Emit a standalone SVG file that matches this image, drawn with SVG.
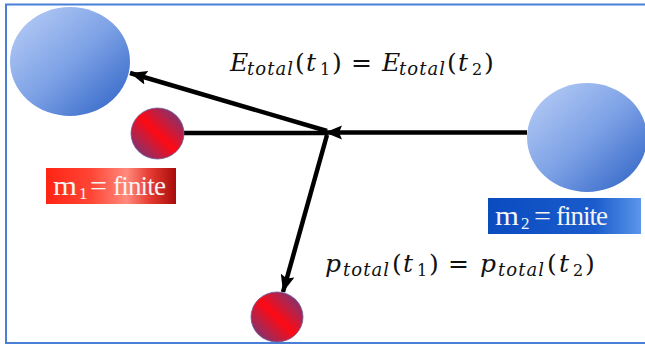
<svg xmlns="http://www.w3.org/2000/svg" width="645" height="345" viewBox="0 0 645 345">
<defs>
<linearGradient id="blueBall" x1="0" y1="0" x2="1" y2="1">
<stop offset="0" stop-color="#bcd0f7"/>
<stop offset="0.5" stop-color="#7ea2e6"/>
<stop offset="1" stop-color="#2a60c4"/>
</linearGradient>
<linearGradient id="redBall" x1="0" y1="1" x2="1" y2="0">
<stop offset="0" stop-color="#5a3f8a"/>
<stop offset="0.5" stop-color="#ff0a14"/>
<stop offset="1" stop-color="#5a3f8a"/>
</linearGradient>
<linearGradient id="redBox" x1="0" y1="0" x2="1" y2="0">
<stop offset="0" stop-color="#ff2414"/>
<stop offset="0.35" stop-color="#ff4636"/>
<stop offset="0.62" stop-color="#ff8a7c"/>
<stop offset="0.8" stop-color="#e53a30"/>
<stop offset="1" stop-color="#a80c0c"/>
</linearGradient>
<linearGradient id="blueBox" x1="0" y1="0" x2="1" y2="0">
<stop offset="0" stop-color="#0a4cc0"/>
<stop offset="0.7" stop-color="#1a5ccc"/>
<stop offset="1" stop-color="#5a96ea"/>
</linearGradient>
<marker id="head" markerUnits="userSpaceOnUse" markerWidth="20" markerHeight="16" refX="17" refY="7" orient="auto">
<path d="M0,0 L17,7 L0,14 L3,7 z" fill="#000"/>
</marker>
<style>
.conn{stroke:#000;stroke-width:4.5;fill:none}
.math{font-family:"DejaVu Serif","Liberation Serif",serif;font-size:25px;fill:#111}
.it{font-style:italic}
.sub{font-size:18px}
.num{font-size:16px}
.lbl{font-family:"Liberation Serif","DejaVu Serif",serif;font-size:27px;fill:#f4f4f4}
.lsub{font-size:17px}
</style>
</defs>
<rect x="6" y="4.5" width="645" height="338.5" fill="#fff" stroke="#4a7fd8" stroke-width="2"/>

<g id="connectors">
<line class="conn" x1="327" y1="131" x2="130" y2="73" marker-end="url(#head)"/>
<line class="conn" x1="184" y1="133" x2="328" y2="133"/>
<line class="conn" x1="527" y1="132.5" x2="325" y2="132.5" marker-end="url(#head)"/>
<line class="conn" x1="327" y1="135" x2="283" y2="292" marker-end="url(#head)"/>
</g>

<g id="mass1-before"><ellipse cx="70" cy="61.5" rx="60" ry="54.5" fill="url(#blueBall)"/></g>
<g id="mass2"><ellipse cx="587" cy="137.5" rx="60" ry="54.5" fill="url(#blueBall)"/></g>
<g id="ball1"><ellipse cx="157.5" cy="133.5" rx="26.5" ry="25.5" fill="url(#redBall)" stroke="#6a5a9a" stroke-width="0.8"/></g>
<g id="ball2"><ellipse cx="277" cy="317" rx="26" ry="25" fill="url(#redBall)" stroke="#6a5a9a" stroke-width="0.8"/></g>

<g id="label-m1">
<rect x="46" y="168" width="130" height="36" fill="url(#redBox)"/>
<text class="lbl" y="195"><tspan x="53" textLength="24" lengthAdjust="spacingAndGlyphs">m</tspan><tspan class="lsub" x="79" y="199">1</tspan><tspan x="90" y="195" textLength="17" lengthAdjust="spacingAndGlyphs">=</tspan><tspan x="113" textLength="53">finite</tspan></text>
</g>
<g id="label-m2">
<rect x="488" y="198" width="153" height="36" fill="url(#blueBox)"/>
<text class="lbl" y="225"><tspan x="495" textLength="24" lengthAdjust="spacingAndGlyphs">m</tspan><tspan class="lsub" x="521" y="229">2</tspan><tspan x="534" y="225" textLength="17" lengthAdjust="spacingAndGlyphs">=</tspan><tspan x="556" textLength="52">finite</tspan></text>
</g>

<g id="energy-eq">
<text class="math" y="71"><tspan class="it" x="230">E</tspan><tspan class="it sub" x="247" y="75" textLength="46">total</tspan><tspan x="295" y="71">(</tspan><tspan class="it" x="306">t</tspan><tspan class="num" x="320" y="75">1</tspan><tspan x="332" y="71">)</tspan><tspan x="351" textLength="21" lengthAdjust="spacingAndGlyphs">=</tspan><tspan class="it" x="382">E</tspan><tspan class="it sub" x="399" y="75" textLength="46">total</tspan><tspan x="447" y="71">(</tspan><tspan class="it" x="458">t</tspan><tspan class="num" x="472" y="75">2</tspan><tspan x="484" y="71">)</tspan></text>
</g>
<g id="momentum-eq">
<text class="math" y="272"><tspan class="it" x="325">p</tspan><tspan class="it sub" x="343" y="276" textLength="46">total</tspan><tspan x="392" y="272">(</tspan><tspan class="it" x="403">t</tspan><tspan class="num" x="417" y="276">1</tspan><tspan x="429" y="272">)</tspan><tspan x="448" textLength="21" lengthAdjust="spacingAndGlyphs">=</tspan><tspan class="it" x="480">p</tspan><tspan class="it sub" x="498" y="276" textLength="46">total</tspan><tspan x="547" y="272">(</tspan><tspan class="it" x="559">t</tspan><tspan class="num" x="573" y="276">2</tspan><tspan x="585" y="272">)</tspan></text>
</g>
</svg>
